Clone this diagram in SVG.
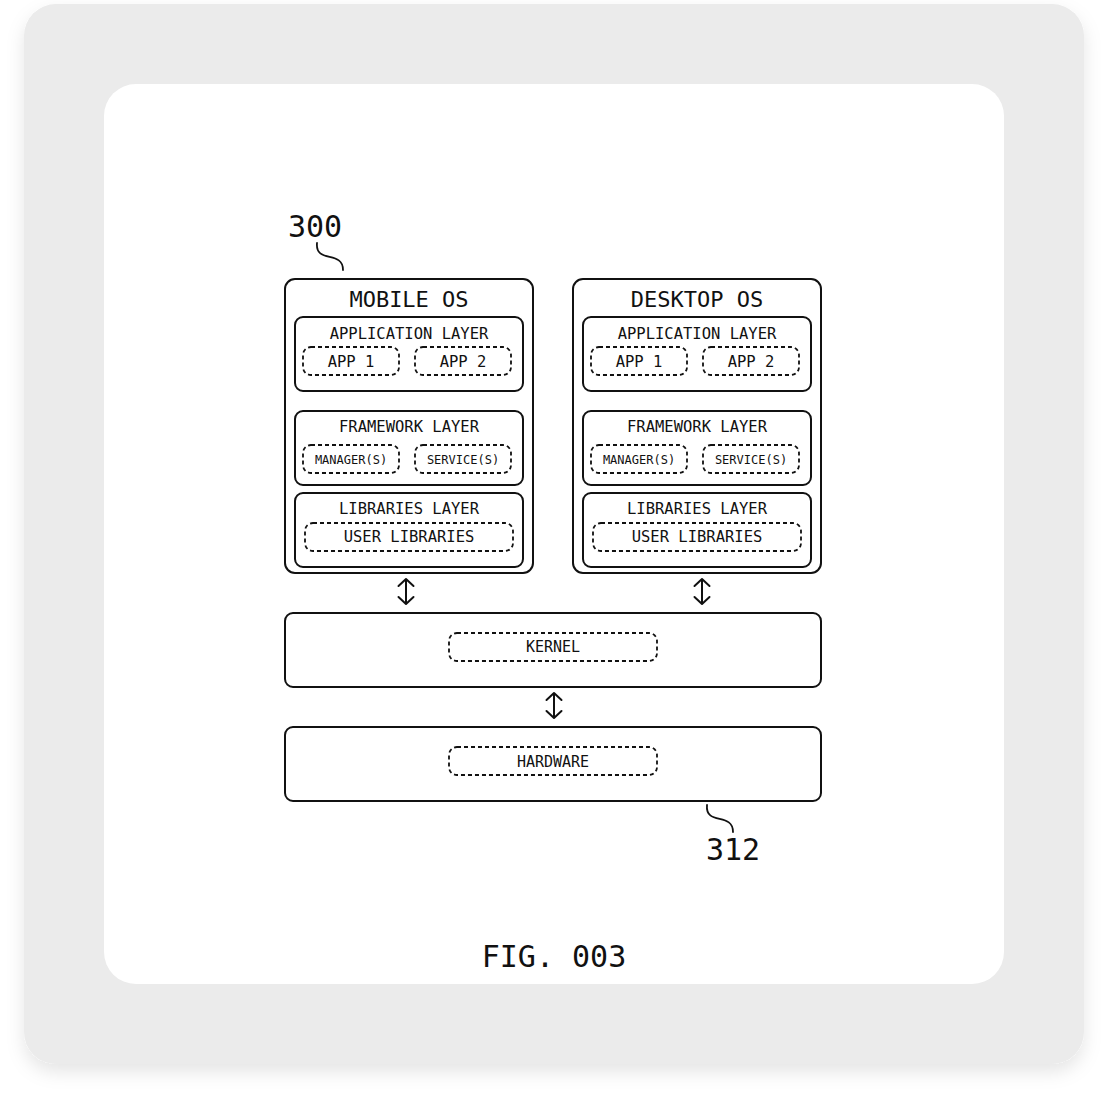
<svg xmlns="http://www.w3.org/2000/svg" width="1108" height="1108" viewBox="0 0 1108 1108">
  <defs>
    <filter id="shadow" x="-10%" y="-10%" width="120%" height="125%">
      <feDropShadow dx="0" dy="8" stdDeviation="9" flood-color="#000" flood-opacity="0.10"/>
    </filter>
    <marker id="chev" viewBox="-9 -9 18 18" markerWidth="18" markerHeight="18" markerUnits="userSpaceOnUse" refX="0" refY="0" orient="auto-start-reverse">
      <path d="M-7,-7.5 L0,0 L-7,7.5" fill="none" stroke="#111" stroke-width="2" stroke-linecap="round" stroke-linejoin="round"/>
    </marker>
    <style>
      .box { fill: #fff; stroke: #111; stroke-width: 2; }
      .dash { fill: none; stroke: #111; stroke-width: 1.8; stroke-dasharray: 4 3; }
      .t { font-family: "DejaVu Sans Mono", "Liberation Mono", monospace; fill: #111; text-anchor: middle; }
      .title { font-size: 22px; }
      .layer { font-size: 15.5px; }
      .item { font-size: 15.5px; }
      .small { font-size: 12px; }
      .base { font-size: 15px; }
      .ref { font-size: 30px; }
      .conn { fill: none; stroke: #111; stroke-width: 2; }
      .lead { fill: none; stroke: #111; stroke-width: 1.8; stroke-linecap: round; }
    </style>
  </defs>

  <rect x="24" y="4" width="1060" height="1060" rx="32" fill="#ebebeb" filter="url(#shadow)"/>
  <rect x="104" y="84" width="900" height="900" rx="32" fill="#fff"/>

  <g id="mobile-os">
    <rect class="box" x="285" y="279" width="248" height="294" rx="10"/>
    <text class="t title" x="409" y="307">MOBILE OS</text>
    <g id="mobile-app-layer">
      <rect class="box" x="295" y="317" width="228" height="74" rx="8"/>
      <text class="t layer" x="409" y="339">APPLICATION LAYER</text>
      <rect class="dash" x="303" y="347" width="96" height="28" rx="8"/>
      <text class="t item" x="351" y="367">APP 1</text>
      <rect class="dash" x="415" y="347" width="96" height="28" rx="8"/>
      <text class="t item" x="463" y="367">APP 2</text>
    </g>
    <g id="mobile-framework-layer">
      <rect class="box" x="295" y="411" width="228" height="74" rx="8"/>
      <text class="t layer" x="409" y="432">FRAMEWORK LAYER</text>
      <rect class="dash" x="303" y="445" width="96" height="28" rx="8"/>
      <text class="t small" x="351" y="464">MANAGER(S)</text>
      <rect class="dash" x="415" y="445" width="96" height="28" rx="8"/>
      <text class="t small" x="463" y="464">SERVICE(S)</text>
    </g>
    <g id="mobile-libraries-layer">
      <rect class="box" x="295" y="493" width="228" height="74" rx="8"/>
      <text class="t layer" x="409" y="514">LIBRARIES LAYER</text>
      <rect class="dash" x="305" y="523" width="208" height="28" rx="8"/>
      <text class="t item" x="409" y="542">USER LIBRARIES</text>
    </g>
  </g>

  <g id="desktop-os">
    <rect class="box" x="573" y="279" width="248" height="294" rx="10"/>
    <text class="t title" x="697" y="307">DESKTOP OS</text>
    <g id="desktop-app-layer">
      <rect class="box" x="583" y="317" width="228" height="74" rx="8"/>
      <text class="t layer" x="697" y="339">APPLICATION LAYER</text>
      <rect class="dash" x="591" y="347" width="96" height="28" rx="8"/>
      <text class="t item" x="639" y="367">APP 1</text>
      <rect class="dash" x="703" y="347" width="96" height="28" rx="8"/>
      <text class="t item" x="751" y="367">APP 2</text>
    </g>
    <g id="desktop-framework-layer">
      <rect class="box" x="583" y="411" width="228" height="74" rx="8"/>
      <text class="t layer" x="697" y="432">FRAMEWORK LAYER</text>
      <rect class="dash" x="591" y="445" width="96" height="28" rx="8"/>
      <text class="t small" x="639" y="464">MANAGER(S)</text>
      <rect class="dash" x="703" y="445" width="96" height="28" rx="8"/>
      <text class="t small" x="751" y="464">SERVICE(S)</text>
    </g>
    <g id="desktop-libraries-layer">
      <rect class="box" x="583" y="493" width="228" height="74" rx="8"/>
      <text class="t layer" x="697" y="514">LIBRARIES LAYER</text>
      <rect class="dash" x="593" y="523" width="208" height="28" rx="8"/>
      <text class="t item" x="697" y="542">USER LIBRARIES</text>
    </g>
  </g>

  <g id="kernel">
    <rect class="box" x="285" y="613" width="536" height="74" rx="8"/>
    <rect class="dash" x="449" y="633" width="208" height="28" rx="8"/>
    <text class="t base" x="553" y="652">KERNEL</text>
  </g>

  <g id="hardware">
    <rect class="box" x="285" y="727" width="536" height="74" rx="8"/>
    <rect class="dash" x="449" y="747" width="208" height="28" rx="8"/>
    <text class="t base" x="553" y="767">HARDWARE</text>
  </g>

  <g id="connectors">
    <line class="conn" x1="406" y1="579" x2="406" y2="604" marker-start="url(#chev)" marker-end="url(#chev)"/>
    <line class="conn" x1="702" y1="579" x2="702" y2="604" marker-start="url(#chev)" marker-end="url(#chev)"/>
    <line class="conn" x1="554" y1="693" x2="554" y2="718" marker-start="url(#chev)" marker-end="url(#chev)"/>
    <path class="lead" d="M317,243 C315,264 343,250 343,270"/>
    <path class="lead" d="M707,805 C705,826 733,812 733,832"/>
  </g>

  <g id="labels">
    <text class="t ref" x="315" y="237">300</text>
    <text class="t ref" x="733" y="860">312</text>
    <text class="t ref" x="554" y="967">FIG. 003</text>
  </g>
</svg>
